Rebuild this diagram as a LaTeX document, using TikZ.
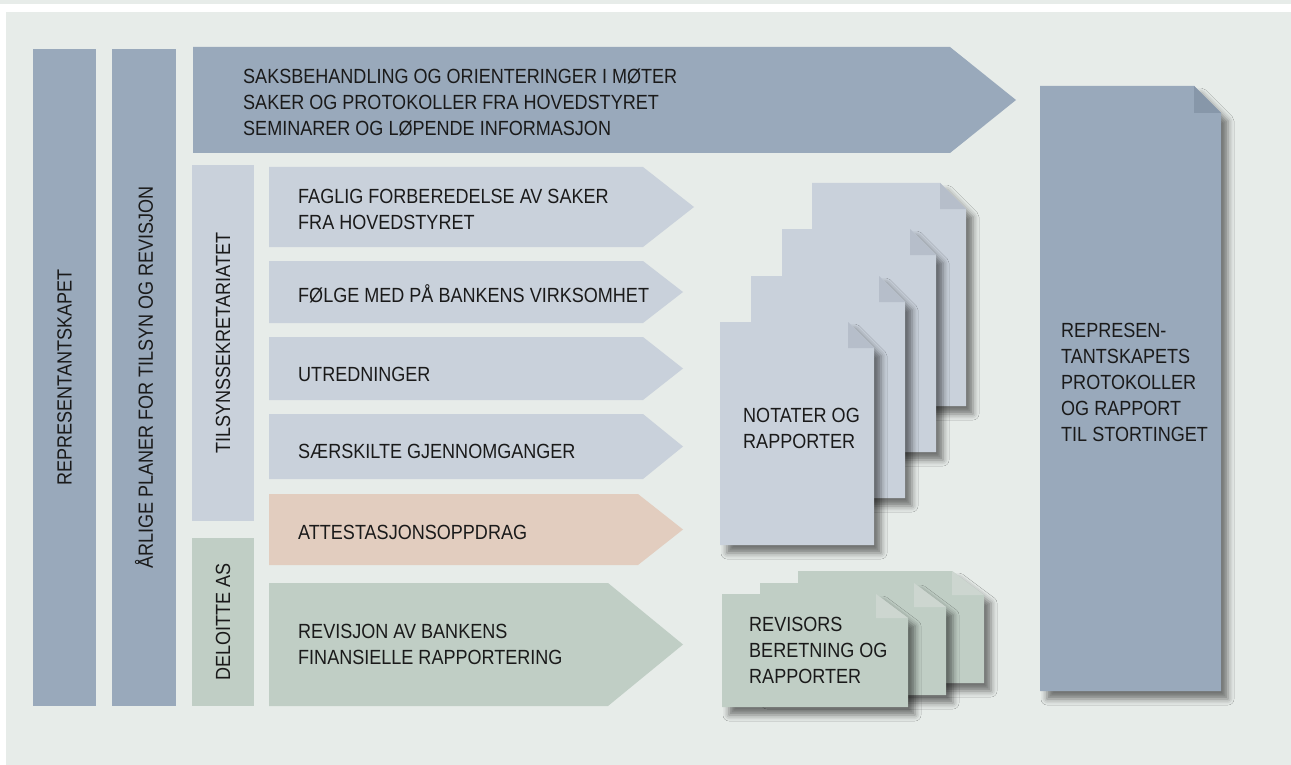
\documentclass[tikz,border=0pt]{standalone}
\usepackage{fontspec}
\setmainfont[FakeStretch=0.88]{Liberation Sans}
\usetikzlibrary{shadows.blur}

\definecolor{bgcol}{HTML}{E7ECE9}
\definecolor{darkblue}{HTML}{99A9BB}
\definecolor{darkfold}{HTML}{8797A9}
\definecolor{lightblue}{HTML}{C9D1DB}
\definecolor{lightfold}{HTML}{B6BECA}
\definecolor{salmon}{HTML}{E2CDBF}
\definecolor{sage}{HTML}{C0CEC5}
\definecolor{sagefold}{HTML}{CDD6D0}
\definecolor{inkcol}{HTML}{1A1A1A}

\begin{document}
\begin{tikzpicture}[x=1pt, y=-1pt,
    lab/.style={anchor=west, inner sep=0pt, align=left, text=inkcol, font=\fontsize{20.5}{26}\selectfont},
    vlab/.style={inner sep=0pt, rotate=90, text=inkcol, font=\fontsize{20.5}{26}\selectfont},
    docshadow/.style={blur shadow={shadow xshift=7pt, shadow yshift=-8pt, shadow blur radius=6pt, shadow opacity=50}}]

    %background
    \useasboundingbox (0,0) rectangle (1291,765);
    \fill[white] (0,0) rectangle (1291,765);
    \fill[bgcol] (0,0) rectangle (1291,4);
    \fill[bgcol] (6,12) rectangle (1291,765);

    %columns
    \fill[darkblue] (33,49) rectangle (96,706);
    \fill[darkblue] (112,49) rectangle (176,706);
    \fill[lightblue] (192,165) rectangle (254,521);
    \fill[sage] (192,538) rectangle (254,706);
    \node[vlab] (repr) at (64.5,377.5) {REPRESENTANTSKAPET};
    \node[vlab] (planer) at (144,377.5) {ÅRLIGE PLANER FOR TILSYN OG REVISJON};
    \node[vlab] (sekr) at (223,343) {TILSYNSSEKRETARIATET};
    \node[vlab] (deloitte) at (223,622) {DELOITTE AS};

    %arrows
    \fill[darkblue] (193,47) -- (950,47) -- (1016,100) -- (950,153) -- (193,153) -- cycle;
    \fill[lightblue] (269,167) -- (643,167) -- (694,207) -- (643,247) -- (269,247) -- cycle;
    \fill[lightblue] (269,261) -- (643,261) -- (683,292) -- (643,323) -- (269,323) -- cycle;
    \fill[lightblue] (269,337) -- (643,337) -- (683,368.5) -- (643,400) -- (269,400) -- cycle;
    \fill[lightblue] (269,414) -- (643,414) -- (683,446.5) -- (643,479) -- (269,479) -- cycle;
    \fill[salmon] (269,494) -- (638,494) -- (683,529.5) -- (638,565) -- (269,565) -- cycle;
    \fill[sage] (269,583) -- (608,583) -- (683,644.5) -- (608,706) -- (269,706) -- cycle;

    \node[lab] (moter) at (243,102) {SAKSBEHANDLING OG ORIENTERINGER I MØTER\\SAKER OG PROTOKOLLER FRA HOVEDSTYRET\\SEMINARER OG LØPENDE INFORMASJON};
    \node[lab] (faglig) at (298,209.5) {FAGLIG FORBEREDELSE AV SAKER\\FRA HOVEDSTYRET};
    \node[lab] (folge) at (298,294) {FØLGE MED PÅ BANKENS VIRKSOMHET};
    \node[lab] (utred) at (298,374.5) {UTREDNINGER};
    \node[lab] (saersk) at (298,451) {SÆRSKILTE GJENNOMGANGER};
    \node[lab] (attest) at (298,532.5) {ATTESTASJONSOPPDRAG};
    \node[lab] (revisjon) at (298,644) {REVISJON AV BANKENS\\FINANSIELLE RAPPORTERING};

    %report to the storting
    \fill[darkblue, docshadow] (1040,86) -- (1194,86) -- (1221,113) -- (1221,691) -- (1040,691) -- cycle;
    \fill[darkfold] (1194,86) -- (1194,113) -- (1221,113) -- cycle;
    \node[lab] (storting) at (1061,382) {REPRESEN-\\TANTSKAPETS\\PROTOKOLLER\\OG RAPPORT\\TIL STORTINGET};

    %notes and reports
    \fill[lightblue, docshadow] (812,183) -- (940,183) -- (966,209) -- (966,406) -- (812,406) -- cycle;
    \fill[lightfold] (940,183) -- (940,209) -- (966,209) -- cycle;
    \fill[lightblue, docshadow] (782,229) -- (910,229) -- (936,255) -- (936,452) -- (782,452) -- cycle;
    \fill[lightfold] (910,229) -- (910,255) -- (936,255) -- cycle;
    \fill[lightblue, docshadow] (751,276) -- (879,276) -- (905,302) -- (905,498) -- (751,498) -- cycle;
    \fill[lightfold] (879,276) -- (879,302) -- (905,302) -- cycle;
    \fill[lightblue, docshadow] (720,322) -- (848,322) -- (874,348) -- (874,545) -- (720,545) -- cycle;
    \fill[lightfold] (848,322) -- (848,348) -- (874,348) -- cycle;
    \node[lab] (notater) at (743,428) {NOTATER OG\\RAPPORTER};

    %auditor's reports
    \fill[sage, docshadow] (798,571) -- (952,571) -- (984,595) -- (984,683) -- (798,683) -- cycle;
    \fill[sagefold] (952,571) -- (952,595) -- (984,595) -- cycle;
    \fill[sage, docshadow] (760,583) -- (914,583) -- (946,607) -- (946,695) -- (760,695) -- cycle;
    \fill[sagefold] (914,583) -- (914,607) -- (946,607) -- cycle;
    \fill[sage, docshadow] (722,594) -- (876,594) -- (908,618) -- (908,707) -- (722,707) -- cycle;
    \fill[sagefold] (876,594) -- (876,618) -- (908,618) -- cycle;
    \node[lab] (revisors) at (749,650.5) {REVISORS\\BERETNING OG\\RAPPORTER};
\end{tikzpicture}
\end{document}
